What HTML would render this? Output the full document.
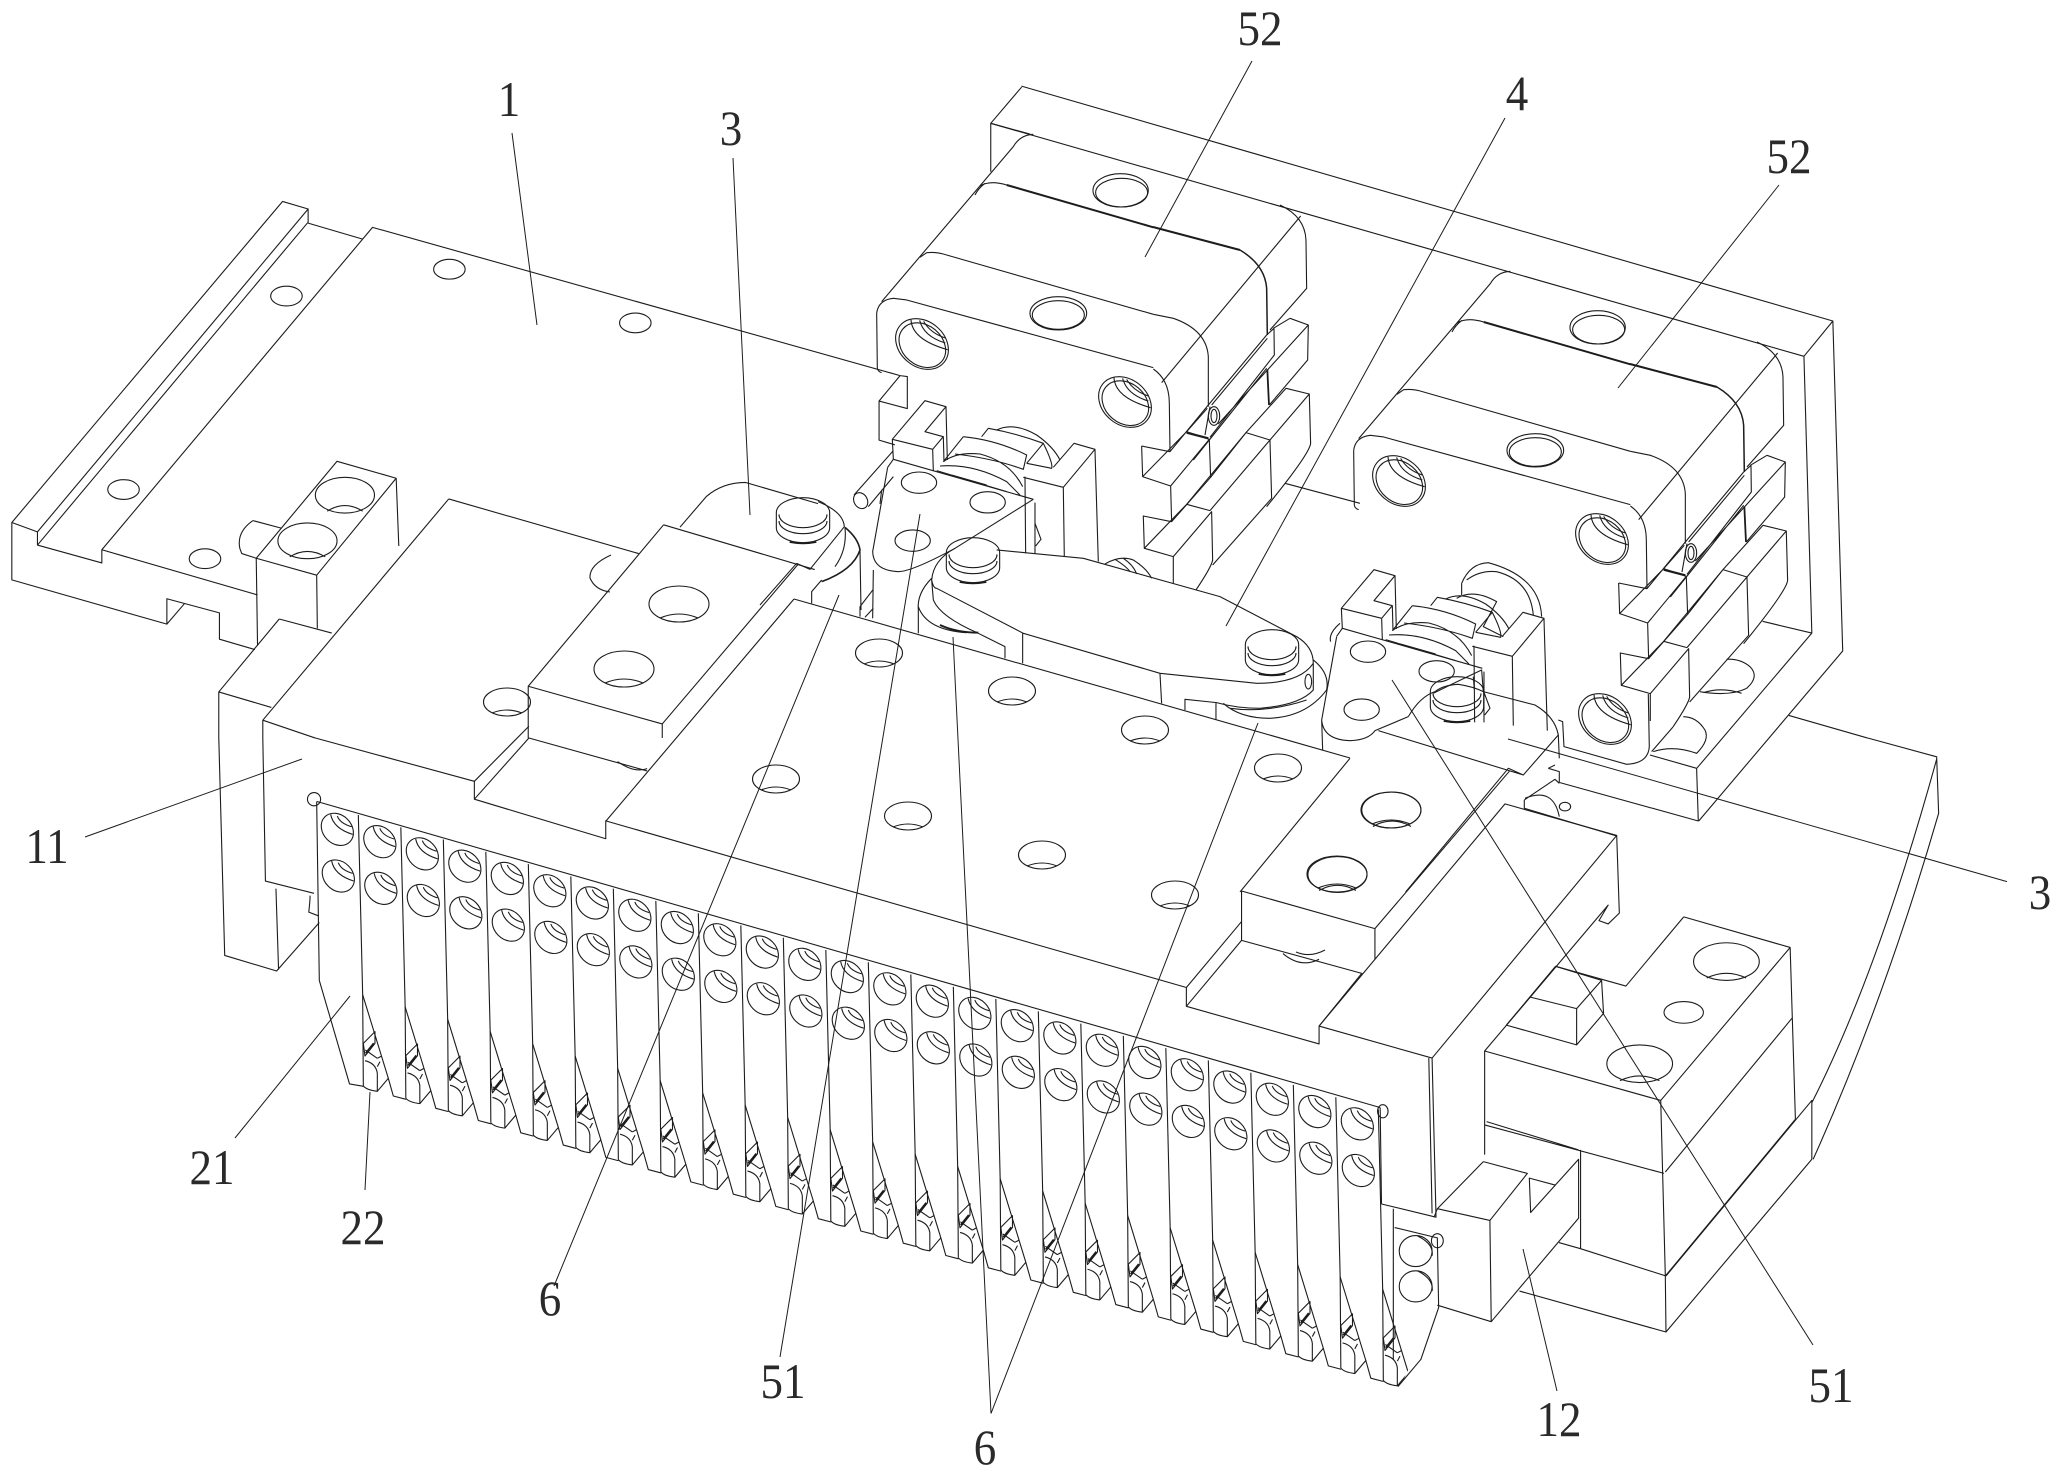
<!DOCTYPE html>
<html><head><meta charset="utf-8"><style>
html,body{margin:0;padding:0;background:#fff}
svg{display:block}
.l *{vector-effect:non-scaling-stroke}
.l{fill:none;stroke:#1c1c1c;stroke-width:1.1;stroke-linejoin:round}
text{font-family:"Liberation Serif",serif;font-size:50px;fill:#2a2a2a;stroke:none;text-anchor:middle}
</style></head><body>
<svg width="2060" height="1476" viewBox="0 0 2060 1476" xmlns="http://www.w3.org/2000/svg">
<defs>
<g id="h" class="l"><ellipse rx="23.5" ry="14"/><path d="M-15,11 Q0,5 15,11"/></g>
<g id="H" class="l"><ellipse rx="30" ry="18"/><path d="M-19,14 Q0,6 19,14"/></g>
<g id="HH" class="l"><ellipse rx="33" ry="19"/><path d="M-21,15 Q0,7 21,15"/></g>
<g id="pin" class="l" transform="scale(.3333)"><path d="M-80,-10 A80,45 0 0 1 80,-10 L80,35 A80,45 0 0 1 -80,35 Z"/><path d="M-72,15 A72,38 0 0 0 72,15"/><path d="M-72,-5 A72,40 0 0 0 72,-5"/><path d="M-40,78 Q0,86 40,78" stroke-width="1.8"/></g>
<g id="ch" class="l" transform="scale(.3333)"><ellipse rx="86" ry="68" transform="rotate(40)"/><ellipse cx="3" cy="2" rx="76" ry="60" transform="rotate(40)"/><path d="M-33,-73 Q-30,-13 77,17 M-7,-71 Q5,-23 70,-3 M5,-68 Q25,-33 70,-18"/></g>
<g id="tooth" class="l" transform="translate(300,1000) scale(.3333)">
<ellipse cx="112" cy="-512" rx="53" ry="43" transform="rotate(45 112 -512)"/><path d="M92,-557 Q100,-515 158,-497 M112,-552 Q120,-530 155,-520"/>
<ellipse cx="115" cy="-372" rx="53" ry="43" transform="rotate(45 115 -372)"/><path d="M95,-417 Q103,-375 161,-357 M115,-412 Q123,-390 158,-380"/>
<path d="M175,-555 L188,-16 L190,258"/>
<path d="M188,-16 L265,235 L280,288 L318,298"/>
<path d="M190,258 Q200,270 232,274 L265,235 M195,182 Q228,190 232,220 L232,274 M232,175 L196,150 M190,130 L225,95 L225,130 L195,168 Z M232,175 L245,168 M240,185 L232,200"/>
<path d="M198,160 L222,130" stroke-width="2.4"/>
</g>
<g id="act" class="l"><g transform="translate(840,380) scale(.3333)">
<path d="M157,178 L255,62 L318,80 L255,155 L310,170 L278,208 Z M318,80 L322,240 M278,208 L280,272 M310,170 L312,245 M157,178 L160,238"/>
<path d="M160,238 L580,358 M160,238 L143,262"/>
<ellipse cx="237" cy="308" rx="53" ry="32"/><ellipse cx="443" cy="367" rx="53" ry="32"/><ellipse cx="218" cy="482" rx="53" ry="32"/>
<path d="M370,170 Q470,180 560,225 L550,268 Q460,235 345,222 M370,170 L310,245 M425,170 L445,145 Q530,160 610,190 L560,250 M470,150 Q520,125 590,165 Q640,200 660,240 M610,190 Q640,250 635,265 L560,250 M310,245 Q350,215 420,222 Q510,245 548,320 M300,258 Q400,250 500,305 L540,345 M290,272 L500,335 M335,285 L440,315"/>
<path d="M550,292 L670,322 L765,208 L702,190 L640,262 M670,322 L673,530 M765,208 L775,545 M555,290 L557,520 M585,368 L585,520 M585,430 L603,478 L587,498"/>
</g></g>
<g id="cyl" class="l">
<g transform="translate(870,100) scale(.3333)">
<path d="M490,103 Q450,105 430,140 L35,605"/>
<path d="M20,640 Q25,600 70,595 L110,600 L850,803 M20,640 L22,805 Q24,815 35,818"/>
<path d="M150,472 L170,458 Q200,455 230,465 L850,643"/>
<path d="M345,250 Q325,265 315,285 M330,258 Q360,240 410,255"/>
<path d="M410,255 L850,382" stroke-width="2"/>
<ellipse cx="752" cy="271" rx="83" ry="50"/><ellipse cx="755" cy="278" rx="78" ry="43"/>
<ellipse cx="565" cy="640" rx="85" ry="50"/><ellipse cx="565" cy="645" rx="78" ry="43"/>
</g>
<use href="#ch" x="922" y="344"/><use href="#ch" x="1125" y="402"/>
<g transform="translate(1130,220) scale(.3333)">
<path d="M69,21 L330,90" stroke-width="2"/>
<path d="M330,90 Q405,135 410,205 L412,345" stroke-width="1.5"/>
<path d="M450,-45 Q525,-10 528,60 L530,205 L420,330 M512,-12 L95,488"/>
<path d="M70,283 L130,295 Q230,330 235,410 L235,560 M70,447 Q118,480 118,550 L120,695"/>
<path d="M235,555 L410,345 L432,325 L433,405 L240,652 M245,555 L412,355 M225,645 L240,560 M170,635 L232,565 M535,315 L265,612 M480,295 L430,325 M480,295 L535,315 L533,420 L418,555 M410,445 L190,720"/>
<path d="M412,448 L417,555" stroke-width="1.8"/>
<ellipse cx="252" cy="588" rx="17" ry="28"/><ellipse cx="252" cy="588" rx="9" ry="20"/>
</g>
<g transform="translate(840,380) scale(.3333)">
<path d="M905,198 L990,215 L1105,75 M905,198 L908,290 L992,318 L995,425 L910,408 L913,505 L1000,530 L1000,612 M908,290 L1040,155 L1108,178 L1112,292 L995,425 M992,318 L1108,178"/>
<path d="M1040,158 L1105,175" stroke-width="2.2"/>
<path d="M913,505 L1040,373 L1110,392 M1000,530 L1115,395 L1118,540 Q1115,560 1068,630 M1110,392 L1290,180 L1218,158 L1112,292 M1218,158 L1040,373 M1290,180 L1295,355 L1118,555 M1218,158 L1338,25 L1408,42 L1412,190 Q1410,220 1280,380 M1408,42 L1290,180"/>
</g>
</g>
</defs>

<g class="l">
<!-- Q1 -->
<g transform="scale(.657,.4707)">
<path d="M18,1110 L430,428 L469,444 L57,1130 Z M469,444 L469,472 L57,1158 L57,1130 M18,1110 L18,1232 L254,1326 L254,1272 L334,1302 L334,1358 L388,1380 M254,1326 L281,1282 M57,1158 L155,1196 L155,1168 L392,1264 M155,1168 L567,483 L1370,798 L1381,800 L1381,868 L1338,852 L1370,798 M469,474 L552,508 M1338,852 L1338,935 L1362,945"/>
<ellipse cx="684" cy="572" rx="24" ry="21"/><ellipse cx="436" cy="629" rx="24" ry="21"/><ellipse cx="967" cy="686" rx="24" ry="21"/><ellipse cx="188" cy="1040" rx="24" ry="21"/><ellipse cx="312" cy="1187" rx="24" ry="21"/>
<path d="M513,980 L603,1016 L482,1222 L390,1186 Z M603,1016 L607,1160 M482,1222 L483,1335 M390,1186 L392,1372"/>
<ellipse cx="525" cy="1052" rx="45" ry="38"/><path d="M498,1086 Q525,1062 552,1086"/>
<ellipse cx="468" cy="1149" rx="45" ry="38"/><path d="M441,1183 Q468,1160 495,1183"/>
<path d="M385,1106 L428,1122 M385,1106 Q360,1130 365,1165 L368,1176 L390,1186"/>
<path d="M683,1060 L972,1176 M683,1060 L400,1530 M425,1315 L505,1345 M425,1315 L333,1470 L413,1503 M333,1470 L333,1568 M400,1530 L400,1568 M400,1530 L480,1568"/>
<path d="M1010,1115 L1240,1210 M1010,1115 L804,1458 L1008,1538 L1214,1200 M804,1458 L804,1568 M1008,1538 L1008,1568"/>
<path d="M1035,1120 L1075,1055 Q1100,1025 1135,1025 L1245,1070"/>
<path d="M1555,185 L1508,262 L1508,365 M1508,262 L1568,285"/>
</g>
<!-- Arm 1 end -->
<g transform="translate(760,470) scale(.3333)">
<path d="M174,95 Q250,125 253,170 L150,298 L110,280 M110,280 L0,405"/>
<path d="M255,172 Q295,205 300,240 Q280,300 185,335" stroke-width="1.6"/>
<path d="M255,172 Q262,240 225,290 M185,330 L155,365 L155,400 M300,240 L303,420"/>
</g>
<!-- Q2 plate -->
<g transform="translate(1030,0) scale(.657,.4707)">
<path d="M-13,183 L1222,682 L1237,1383 L1018,1744 M-60,262 L1178,757 L1222,682 M1178,757 L1190,1345 L1115,1320 M1190,1345 L1015,1632 M1155,1520 L1275,1568"/>
</g>
<use href="#cyl"/>
<use href="#cyl" transform="translate(477,137)"/>

<!-- plate lines and holes -->
<path d="M794,599 L1350,758 M794,599 L606,821"/>
<g>
<use href="#h" x="776" y="779"/><use href="#h" x="908" y="816"/><use href="#h" x="1042" y="855"/><use href="#h" x="1175" y="895"/>
<use href="#h" x="879" y="653"/><use href="#h" x="1012" y="691"/><use href="#h" x="1145" y="730"/><use href="#h" x="1278" y="768"/><use href="#h" x="507" y="702"/>
</g>
<path d="M611,555 Q589,565 590,578 Q595,590 610,592 M1296,952 Q1310,958 1325,950"/>
<use href="#H" x="679" y="604"/><use href="#H" x="624" y="669"/>
<use href="#H" x="1391" y="810"/><use href="#H" x="1337" y="874"/>

<use href="#act"/>
<use href="#act" transform="translate(449,169)"/>

<!-- Centre Z6 -->
<g transform="translate(840,380) scale(.3333)">
<path d="M160,212 L42,345 M85,380 L160,290 M125,330 L120,372"/>
<ellipse cx="62" cy="362" rx="20" ry="25" transform="rotate(-30 62 362)"/>
<path d="M143,262 L98,515 Q100,572 175,575 Q215,575 345,505 L580,358"/>
<path d="M100,570 L98,715 M60,680 L100,628 M60,680 L60,710 M75,712 L100,685"/>
<path d="M345,505 Q280,540 275,600 L280,660 Q300,710 415,760 L495,800 L495,835 M275,600 Q280,625 290,625 L550,760 L960,880 L1250,910 Q1380,910 1420,850 M470,510 L730,535 L1140,650 L1370,770 Q1420,800 1420,850 L1420,930 Q1380,975 1260,985 Q1190,985 1130,968 L1035,958 L1035,990 M548,760 L548,850 M960,880 L965,970 M1128,968 L1128,1020"/>
<path d="M275,595 Q230,640 235,690 L235,760 M235,680 Q260,750 380,758"/>
<path d="M300,735 Q350,758 415,758" stroke-width="2"/>
<path d="M1420,840 Q1470,880 1460,930 Q1400,1010 1290,1015 Q1200,1015 1150,970 M1170,985 Q1280,1000 1400,960"/>
<ellipse cx="1405" cy="905" rx="10" ry="22"/>
<path d="M795,552 Q840,525 880,540 Q920,565 935,595 M825,538 Q860,560 870,575 M850,535 Q880,555 890,582"/>
<path d="M1335,310 L1560,370"/>
</g>

<!-- Right Z7 -->
<g transform="translate(1240,520) scale(.3333)">
<path d="M290,350 L245,600 Q250,660 330,662 Q385,660 405,632 L505,590 M245,600 L248,690 M580,520 Q640,490 725,450 L730,515 M700,470 L703,508 M300,310 Q265,340 272,365"/>
<path d="M415,632 L850,765 L955,645 Q945,590 885,555 L730,515 M850,765 L805,745 L497,1116 M505,590 Q540,530 585,515 Q610,495 655,493 Q700,500 730,515 M330,715 L0,1116"/>
<path d="M955,600 L968,605 L972,680 L1160,733 Q1225,730 1228,680 L1225,522 M955,645 L958,715 M925,745 L958,755 L958,790 M925,745 L945,735 M853,840 L945,778 L958,790 M853,840 L853,865 L1130,948 M855,835 Q940,800 958,890"/>
<ellipse cx="975" cy="860" rx="17" ry="13"/>
<path d="M1299,621 L1235,695 M960,788 L1375,903 L1370,745 L1230,705"/>
<path d="M1380,515 Q1470,530 1520,505 Q1560,470 1530,440 Q1500,415 1460,418 M1390,518 Q1445,500 1505,520"/>
<path d="M1240,695 Q1300,675 1370,700 Q1410,660 1395,630 Q1370,590 1330,590"/>
<path d="M665,190 Q690,130 745,128 Q900,170 905,290 M665,190 L665,225 M680,180 Q720,150 770,155 Q870,180 880,285 M650,235 Q700,205 770,245 L730,320 Q770,340 790,350"/>
</g>
<use href="#ch" x="1605" y="719"/>

<!-- Q3 -->
<g transform="translate(0,738) scale(.657,.4707)">
<path d="M333,0 L342,462 L421,495 L486,392 M400,0 L404,304 L478,330 M420,320 L424,492 M480,0 L722,92 L722,130 L922,214 L922,176 L1568,435 M722,92 L805,-25 M722,130 L805,0 L985,70"/>
<path d="M472,335 Q472,345 470,370 L485,378"/><ellipse cx="478" cy="130" rx="10" ry="14"/>
<path d="M940,50 Q965,75 985,65"/>
<path d="M482,135 L486,515 L532,735 L553,740"/>
</g>
<path d="M317,801.5 L1380,1107.5"/>

<!-- Teeth -->
<use href="#tooth"/><use href="#tooth" transform="translate(42.5,12.3)"/><use href="#tooth" transform="translate(85,24.5)"/><use href="#tooth" transform="translate(127.5,36.8)"/><use href="#tooth" transform="translate(170,49.1)"/><use href="#tooth" transform="translate(212.5,61.4)"/><use href="#tooth" transform="translate(255,73.6)"/><use href="#tooth" transform="translate(297.5,85.9)"/><use href="#tooth" transform="translate(340,98.2)"/><use href="#tooth" transform="translate(382.5,110.4)"/><use href="#tooth" transform="translate(425,122.7)"/><use href="#tooth" transform="translate(467.5,135)"/><use href="#tooth" transform="translate(510,147.2)"/><use href="#tooth" transform="translate(552.5,159.5)"/><use href="#tooth" transform="translate(595,171.8)"/><use href="#tooth" transform="translate(637.5,184)"/><use href="#tooth" transform="translate(680,196.3)"/><use href="#tooth" transform="translate(722.5,208.6)"/><use href="#tooth" transform="translate(765,220.9)"/><use href="#tooth" transform="translate(807.5,233.1)"/><use href="#tooth" transform="translate(850,245.4)"/><use href="#tooth" transform="translate(892.5,257.7)"/><use href="#tooth" transform="translate(935,269.9)"/><use href="#tooth" transform="translate(977.5,282.2)"/><use href="#tooth" transform="translate(1020,294.5)"/>
<polygon points="1399,1389 1413,1360 1432,1360 1432,1400 1399,1400" style="fill:#fff;stroke:none"/>

<!-- Q4 -->
<g transform="translate(1030,738) scale(.657,.4707)">
<path d="M322,325 L525,405 L525,470 M322,325 L322,430 L505,500 L440,612 L440,650 L238,570 L238,530 L0,435 M322,390 L238,530 M322,430 L238,570 M525,405 L730,70"/>
<ellipse cx="550" cy="153" rx="45" ry="38"/><path d="M522,188 Q550,165 580,188"/>
<ellipse cx="468" cy="290" rx="45" ry="38"/><path d="M440,324 Q468,302 496,324"/>
<path d="M385,458 Q412,490 440,470"/>
<path d="M440,612 L612,680 L618,1018 L535,990 M607,680 L612,1010 M612,680 L893,207 L723,140 L440,612 M893,207 L897,372 L880,395 L866,388 L880,355 L692,665 L692,885 M692,665 L960,770 M1157,445 L1165,810 M995,380 L1157,445 L960,770 M995,380 L907,527 L800,485"/>
<path d="M960,770 L967,1143 L968,1262 L745,1175 M1160,595 L967,922 M692,822 L965,925 M695,815 L835,875 M1165,810 L967,1143 M838,875 L838,1085 L968,1143 M805,1072 L838,1085 M968,1262 L1190,895 L1190,770 L968,1143 M1275,0 L1380,40 L1383,160 Q1300,560 1192,895 M1380,45 Q1290,500 1190,775"/>
<ellipse cx="1060" cy="475" rx="50" ry="40"/><path d="M1030,510 Q1060,490 1090,510"/>
<ellipse cx="995" cy="583" rx="30" ry="23"/>
<ellipse cx="928" cy="692" rx="50" ry="40"/><path d="M898,728 Q928,708 958,728"/>
<path d="M800,485 L870,515 L832,575 L760,550 M832,575 L832,652 L725,610 M870,515 L873,585 L832,652 M800,485 L725,610"/>
<path d="M690,900 L757,925 L700,1025 L620,1000 L690,900 M700,1025 L702,1240 L620,1205 M702,1240 L835,1020 L835,895 L762,1008 L760,935 L800,950 M615,1018 L620,1000"/>
<path d="M533,785 L535,990 M553,1000 L553,1320"/>
<ellipse cx="537" cy="793" rx="8" ry="14"/><ellipse cx="620" cy="1068" rx="9" ry="15"/>
<path d="M555,1040 L620,1062 L622,1210 L595,1320 L560,1378"/>
<ellipse cx="587" cy="1090" rx="25" ry="33"/><ellipse cx="587" cy="1165" rx="25" ry="33"/>
<path d="M590,1058 Q615,1075 612,1100 M590,1132 Q615,1150 612,1175"/>
</g>

<use href="#pin" x="803" y="516"/><use href="#pin" x="973" y="556"/><use href="#pin" x="1272" y="648"/><use href="#pin" x="1457" y="695"/>

<!-- leaders -->
<path stroke-width="1" d="M512,133 L537,325 M733,158 L750,515 M1252,61 L1145,257 M1505,118 L1226,626 M1779,185 L1618,388 M2007,881.6 L1508,739 M85,837 L302,759 M235,1138 L350,996 M365,1190 L370,1092 M554,1286 L839,595 M780,1357 L920,514 M991,1413.5 L953,637 M991,1413.5 L1258,723 M1813,1345 L1392,680 M1557,1391 L1523,1249"/>
</g>

<!-- labels -->
<g>
<text transform="translate(509,116) scale(.9,1)">1</text>
<text transform="translate(731,145) scale(.9,1)">3</text>
<text transform="translate(1260,45) scale(.9,1)">52</text>
<text transform="translate(1517,110) scale(.9,1)">4</text>
<text transform="translate(1789,173) scale(.9,1)">52</text>
<text transform="translate(2040,909) scale(.9,1)">3</text>
<text transform="translate(47,863) scale(.9,1)">11</text>
<text transform="translate(212,1184) scale(.9,1)">21</text>
<text transform="translate(363,1244) scale(.9,1)">22</text>
<text transform="translate(550,1315) scale(.9,1)">6</text>
<text transform="translate(783,1398) scale(.9,1)">51</text>
<text transform="translate(985,1464) scale(.9,1)">6</text>
<text transform="translate(1831,1402) scale(.9,1)">51</text>
<text transform="translate(1559,1436) scale(.9,1)">12</text>
</g>
</svg>
</body></html>
